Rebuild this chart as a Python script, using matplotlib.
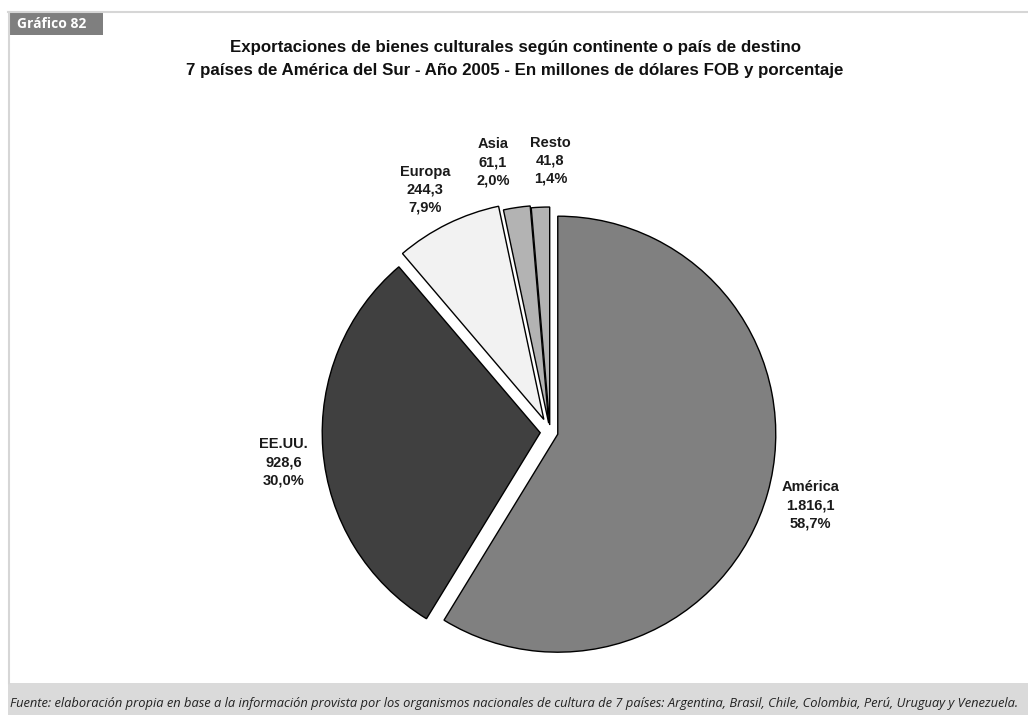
import matplotlib.pyplot as plt
from matplotlib.patches import Rectangle
import numpy as np

# datos
categorias = ['América', 'EE.UU.', 'Europa', 'Asia', 'Resto']
valores = [1816.1, 928.6, 244.3, 61.1, 41.8]
valores_txt = ['1.816,1', '928,6', '244,3', '61,1', '41,8']
porcentajes = ['58,7%', '30,0%', '7,9%', '2,0%', '1,4%']
colores = ['#808080', '#404040', '#f2f2f2', '#b3b3b3', '#b3b3b3']
separacion = [0.037, 0.045, 0.064, 0.041, 0.032]

titulo = ('Exportaciones de bienes culturales según continente o país de destino\n'
          '7 países de América del Sur - Año 2005 - En millones de dólares FOB y porcentaje')
fuente = ('Fuente: elaboración propia en base a la información provista por los organismos '
          'nacionales de cultura de 7 países: Argentina, Brasil, Chile, Colombia, Perú, Uruguay y Venezuela.')

W, H = 1028, 715
fig = plt.figure(figsize=(W / 100, H / 100), dpi=100)
ax = fig.add_axes([0, 0, 1, 1])

cx, cy, r = 550, H - 432, 218
wedges, _ = ax.pie(valores, colors=colores, explode=[s * r for s in separacion],
                   startangle=90, counterclock=False, center=(cx, cy), radius=r,
                   wedgeprops=dict(edgecolor='black', linewidth=1.0))
ax.set_xlim(0, W)
ax.set_ylim(0, H)
ax.axis('off')

# etiquetas
dist = [1.24, 1.23, 1.25, 1.265, 1.245]
ajuste = [0, 2, 1, 3.5, -2.5]
for w, cat, vt, pc, d, aj in zip(wedges, categorias, valores_txt, porcentajes, dist, ajuste):
    ang = np.deg2rad((w.theta1 + w.theta2) / 2 + aj)
    x = cx + d * r * np.cos(ang)
    y = cy + d * r * np.sin(ang)
    ax.text(x, y, cat + '\n' + vt + '\n' + pc, ha='center', va='center',
            fontsize=10.5, fontweight='bold', family='Liberation Sans',
            linespacing=1.35, color='#1a1a1a')

# marco
ax.plot([8, W], [H - 12, H - 12], color='#d6d6d6', lw=1.5)
ax.plot([9, 9], [H - 12, H - 683], color='#d6d6d6', lw=1.5)
ax.add_patch(Rectangle((8, 0), W - 8, H - 683, color='#dadada', lw=0))
ax.add_patch(Rectangle((8, H - 35), 95, 23, color='#7f7f7f', lw=0))
ax.text(17, H - 23.5, 'Gráfico 82', ha='left', va='center', color='white',
        fontsize=10, fontweight='bold', family='Open Sans')

ax.text(515, H - 59, titulo, ha='center', va='center', fontsize=12.2,
        fontweight='bold', family='Liberation Sans', linespacing=1.65, color='#111111')

t = ax.text(10, H - 703, fuente, ha='left', va='center', fontsize=9,
            style='italic', family='Open Sans', color='#222222')
fig.canvas.draw()
ancho = t.get_window_extent().width
t.set_fontsize(9 * 1015 / ancho)

fig.savefig('out.png', dpi=100)
